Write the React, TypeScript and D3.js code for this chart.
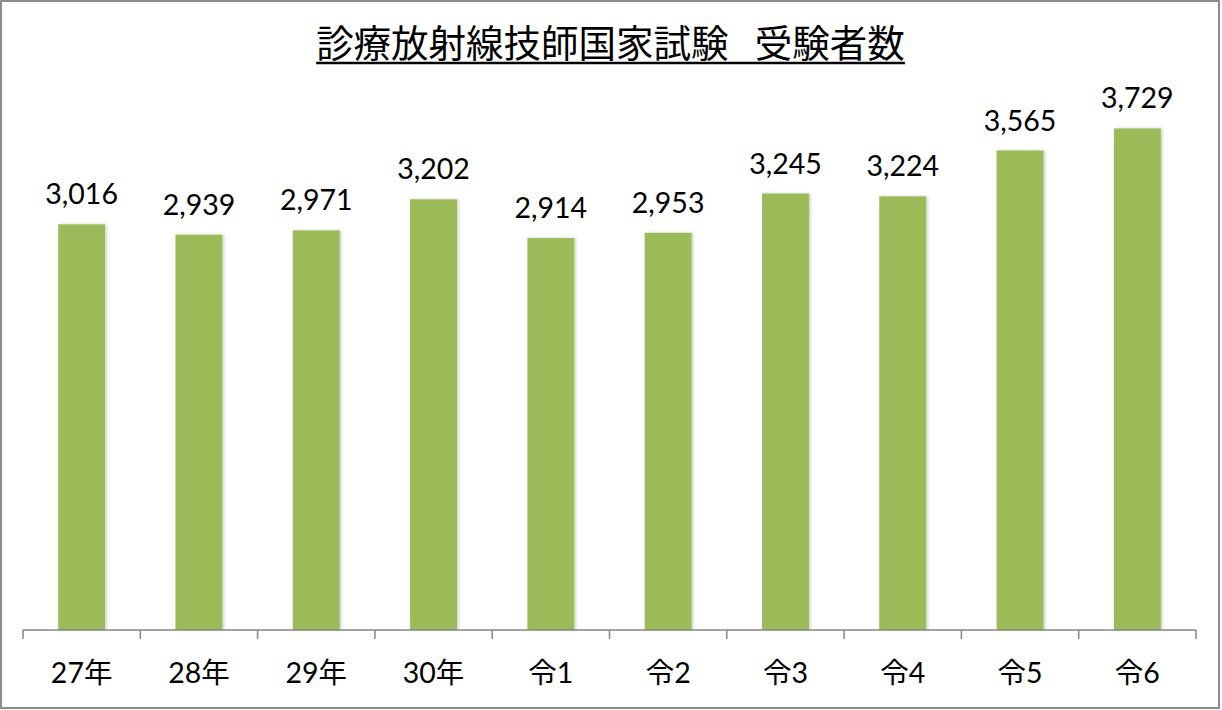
import * as d3 from "d3";
import { useEffect, useRef } from "react";

const width = 1222;
const height = 710;
const margin = { top: 92, right: 24, bottom: 80, left: 23 };

const categories = ["27年", "28年", "29年", "30年", "令1", "令2", "令3", "令4", "令5", "令6"];
const examinees = [3016, 2939, 2971, 3202, 2914, 2953, 3245, 3224, 3565, 3729];
const title = "診療放射線技師国家試験\u2002\u2009受験者数";

const font = "Lato, 'Noto Sans CJK JP', sans-serif";

function App() {
  const ref = useRef<SVGSVGElement>(null);

  useEffect(() => {
    const svg = d3.select(ref.current);
    svg.selectAll("*").remove();

    const data = categories.map((c, i) => ({ x: c, y: examinees[i] }));

    const x = d3
      .scaleBand()
      .domain(categories)
      .range([margin.left, width - margin.right - 2])
      .paddingInner(0.6)
      .paddingOuter(0.3);

    const y = d3
      .scaleLinear()
      .domain([0, 4000])
      .range([height - margin.bottom, margin.top]);

    // chart frame
    svg
      .append("rect")
      .attr("x", 1)
      .attr("y", 1)
      .attr("width", width - 4)
      .attr("height", height - 3)
      .attr("fill", "white")
      .attr("stroke", "#8c8c8c")
      .attr("stroke-width", 2);

    // soft shadow for bars
    const defs = svg.append("defs");
    const filter = defs.append("filter").attr("id", "shadow").attr("x", "-20%").attr("width", "140%");
    filter
      .append("feDropShadow")
      .attr("dx", 1.5)
      .attr("dy", 0)
      .attr("stdDeviation", 1.5)
      .attr("flood-color", "#000")
      .attr("flood-opacity", 0.2);

    // bars
    svg
      .append("g")
      .selectAll("rect")
      .data(data)
      .join("rect")
      .attr("x", (d) => x(d.x) as number)
      .attr("y", (d) => y(d.y))
      .attr("width", x.bandwidth())
      .attr("height", (d) => y(0) - y(d.y))
      .attr("fill", "#9bbb59")
      .attr("filter", "url(#shadow)");

    // value labels
    svg
      .append("g")
      .selectAll("text")
      .data(data)
      .join("text")
      .attr("x", (d) => (x(d.x) as number) + x.bandwidth() / 2)
      .attr("y", (d) => y(d.y) - 20)
      .attr("text-anchor", "middle")
      .style("font-family", font)
      .style("font-size", "28.5px")
      .attr("fill", "#000")
      .text((d) => d3.format(",")(d.y));

    // x axis with ticks between categories
    const step = x.step();
    const x0 = margin.left;
    const x1 = width - margin.right - 2;
    const axis = svg.append("g").attr("stroke", "#868686").attr("stroke-width", 1.5);
    axis
      .append("line")
      .attr("x1", x0)
      .attr("x2", x1)
      .attr("y1", y(0))
      .attr("y2", y(0));
    axis
      .selectAll("line.tick")
      .data(d3.range(categories.length + 1))
      .join("line")
      .classed("tick", true)
      .attr("x1", (i) => x0 + i * step)
      .attr("x2", (i) => x0 + i * step)
      .attr("y1", y(0))
      .attr("y2", y(0) + 9);

    svg
      .append("g")
      .selectAll("text")
      .data(categories)
      .join("text")
      .attr("x", (d) => (x(d) as number) + x.bandwidth() / 2)
      .attr("y", y(0) + 53)
      .attr("text-anchor", "middle")
      .style("font-family", font)
      .style("font-size", "28.5px")
      .attr("fill", "#000")
      .text((d) => d);

    // title with underline
    const t = svg
      .append("text")
      .attr("x", 610.5)
      .attr("y", 57)
      .attr("text-anchor", "middle")
      .style("font-family", "'Noto Sans CJK JP', sans-serif")
      .style("font-size", "37.5px")
      .style("white-space", "pre")
      .attr("fill", "#000")
      .text(title);
    const bb = (t.node() as SVGTextElement).getBBox();
    svg
      .append("line")
      .attr("x1", bb.x)
      .attr("x2", bb.x + bb.width)
      .attr("y1", 63)
      .attr("y2", 63)
      .attr("stroke", "#000")
      .attr("stroke-width", 2.5);
  }, []);

  return (
    <svg
      ref={ref}
      width={width}
      height={height}
      style={{ position: "absolute", left: 0, top: 0, display: "block" }}
    ></svg>
  );
}

export default App;
